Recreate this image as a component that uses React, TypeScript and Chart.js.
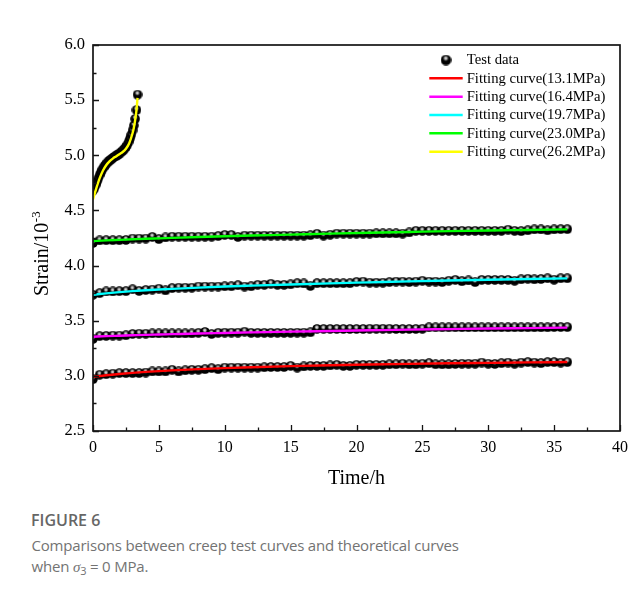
import React, { useEffect, useRef } from "react";
import { Chart, registerables } from "chart.js";

Chart.register(...registerables);

// ---------- data ----------
const timesLong = [
  0, 0.5, 1, 1.5, 2, 2.5, 3, 3.5, 4, 4.5,
  5, 5.5, 6, 6.5, 7, 7.5, 8, 8.5, 9, 9.5,
  10, 10.5, 11, 11.5, 12, 12.5, 13, 13.5, 14, 14.5,
  15, 15.5, 16, 16.5, 17, 17.5, 18, 18.5, 19, 19.5,
  20, 20.5, 21, 21.5, 22, 22.5, 23, 23.5, 24, 24.5,
  25, 25.5, 26, 26.5, 27, 27.5, 28, 28.5, 29, 29.5,
  30, 30.5, 31, 31.5, 32, 32.5, 33, 33.5, 34, 34.5,
  35, 35.5, 36,
];

const test131 = [
  2.97, 3.01, 3.015, 3.02, 3.025, 3.025, 3.025, 3.025, 3.03, 3.04,
  3.04, 3.04, 3.055, 3.04, 3.05, 3.055, 3.055, 3.06, 3.07, 3.06,
  3.075, 3.075, 3.075, 3.075, 3.075, 3.075, 3.078, 3.08, 3.08, 3.08,
  3.09, 3.075, 3.085, 3.09, 3.09, 3.09, 3.095, 3.1, 3.09, 3.09,
  3.1, 3.1, 3.1, 3.1, 3.1, 3.105, 3.105, 3.11, 3.105, 3.105,
  3.11, 3.115, 3.105, 3.105, 3.105, 3.108, 3.11, 3.11, 3.11, 3.12,
  3.11, 3.108, 3.115, 3.12, 3.11, 3.12, 3.125, 3.12, 3.115, 3.125,
  3.125, 3.12, 3.125,
];

const test164 = [
  3.335, 3.36, 3.362, 3.365, 3.365, 3.368, 3.38, 3.382, 3.382, 3.385,
  3.385, 3.385, 3.385, 3.385, 3.385, 3.385, 3.39, 3.398, 3.38, 3.39,
  3.392, 3.392, 3.392, 3.4, 3.39, 3.39, 3.39, 3.39, 3.39, 3.39,
  3.39, 3.392, 3.392, 3.395, 3.425, 3.425, 3.425, 3.425, 3.425, 3.425,
  3.425, 3.425, 3.427, 3.427, 3.427, 3.427, 3.425, 3.425, 3.425, 3.425,
  3.427, 3.44, 3.44, 3.44, 3.44, 3.44, 3.44, 3.44, 3.44, 3.44,
  3.44, 3.44, 3.44, 3.44, 3.44, 3.44, 3.44, 3.44, 3.44, 3.44,
  3.442, 3.442, 3.442,
];

const test197 = [
  3.735, 3.75, 3.765, 3.765, 3.768, 3.768, 3.785, 3.77, 3.778, 3.782,
  3.79, 3.775, 3.795, 3.8, 3.8, 3.8, 3.81, 3.81, 3.81, 3.81,
  3.812, 3.812, 3.822, 3.81, 3.812, 3.825, 3.825, 3.835, 3.825, 3.825,
  3.83, 3.84, 3.838, 3.815, 3.84, 3.84, 3.84, 3.84, 3.84, 3.84,
  3.852, 3.855, 3.845, 3.845, 3.845, 3.85, 3.855, 3.855, 3.85, 3.855,
  3.862, 3.855, 3.855, 3.85, 3.862, 3.87, 3.858, 3.865, 3.85, 3.87,
  3.87, 3.87, 3.87, 3.87, 3.862, 3.875, 3.88, 3.875, 3.878, 3.885,
  3.872, 3.885, 3.885,
];

const test230 = [
  4.205, 4.228, 4.23, 4.23, 4.23, 4.232, 4.245, 4.245, 4.245, 4.26,
  4.24, 4.255, 4.262, 4.262, 4.262, 4.262, 4.262, 4.262, 4.262, 4.268,
  4.278, 4.278, 4.26, 4.272, 4.272, 4.272, 4.272, 4.272, 4.272, 4.272,
  4.272, 4.272, 4.272, 4.275, 4.288, 4.272, 4.28, 4.29, 4.29, 4.29,
  4.29, 4.29, 4.29, 4.292, 4.292, 4.292, 4.292, 4.29, 4.3, 4.315,
  4.315, 4.315, 4.315, 4.315, 4.315, 4.315, 4.315, 4.315, 4.315, 4.315,
  4.315, 4.315, 4.315, 4.325, 4.315, 4.312, 4.32, 4.328, 4.328, 4.32,
  4.328, 4.33, 4.33,
];

const times262 = [
  0, 0.1, 0.2, 0.3, 0.4, 0.5, 0.6, 0.7, 0.8, 0.9,
  1, 1.1, 1.2, 1.3, 1.4, 1.5, 1.6, 1.7, 1.8, 1.9,
  2, 2.1, 2.2, 2.3, 2.4, 2.5, 2.6, 2.7, 2.8, 2.9,
  3, 3.1, 3.2, 3.3, 3.38,
];

const test262 = [
  4.68, 4.7, 4.73, 4.76, 4.79, 4.82, 4.845, 4.87, 4.89, 4.905,
  4.92, 4.935, 4.945, 4.955, 4.965, 4.975, 4.985, 4.99, 5.0, 5.005,
  5.015, 5.025, 5.035, 5.045, 5.06, 5.075, 5.095, 5.12, 5.15, 5.185,
  5.225, 5.27, 5.33, 5.41, 5.55,
];

const fitTimes = [0, 1, 2, 3, 4, 5, 6, 8, 10, 12, 15, 18, 21, 24, 27, 30, 33, 36];
const fit131 = [2.99, 3.005, 3.017, 3.027, 3.036, 3.043, 3.05, 3.061, 3.07, 3.078, 3.088, 3.096, 3.103, 3.109, 3.114, 3.118, 3.122, 3.125];
const fit164 = [3.355, 3.36, 3.364, 3.368, 3.372, 3.375, 3.378, 3.384, 3.389, 3.394, 3.401, 3.407, 3.413, 3.419, 3.424, 3.429, 3.433, 3.437];
const fit197 = [3.735, 3.748, 3.759, 3.768, 3.776, 3.783, 3.789, 3.8, 3.81, 3.818, 3.829, 3.839, 3.848, 3.857, 3.865, 3.872, 3.878, 3.884];
const fit230 = [4.222, 4.228, 4.233, 4.238, 4.243, 4.247, 4.251, 4.259, 4.266, 4.272, 4.281, 4.29, 4.298, 4.305, 4.312, 4.318, 4.323, 4.328];

const fitTimes262 = [0, 0.25, 0.5, 0.75, 1, 1.25, 1.5, 1.75, 2, 2.25, 2.5, 2.75, 3, 3.1, 3.2, 3.3, 3.38];
const fit262 = [4.6, 4.7, 4.79, 4.86, 4.91, 4.945, 4.97, 4.99, 5.01, 5.03, 5.06, 5.11, 5.2, 5.25, 5.32, 5.41, 5.52];

const legendLabels = [
  "Test data",
  "Fitting curve(13.1MPa)",
  "Fitting curve(16.4MPa)",
  "Fitting curve(19.7MPa)",
  "Fitting curve(23.0MPa)",
  "Fitting curve(26.2MPa)",
];
const fitColors = ["#ff0000", "#ff00ff", "#00ffff", "#00ff00", "#ffff00"];

const SERIF = "'Liberation Serif', 'Times New Roman', Times, serif";

function pairs(xs: number[], ys: number[]) {
  return xs.map((x, i) => ({ x, y: ys[i] }));
}

function makeSphere(size: number) {
  const c = document.createElement("canvas");
  c.width = size;
  c.height = size;
  const g = c.getContext("2d")!;
  const r = size / 2;
  g.beginPath();
  g.arc(r, r, r - 0.2, 0, Math.PI * 2);
  g.fillStyle = "#000";
  g.fill();
  const hx = r - 0.2;
  const hy = r - 1.7;
  const grad = g.createRadialGradient(hx, hy, 0, hx, hy, r * 0.62);
  grad.addColorStop(0, "rgba(245,245,245,1)");
  grad.addColorStop(0.45, "rgba(170,170,170,0.9)");
  grad.addColorStop(1, "rgba(0,0,0,0)");
  g.fillStyle = grad;
  g.beginPath();
  g.arc(r, r, r - 0.2, 0, Math.PI * 2);
  g.fill();
  return c;
}

export default function App() {
  const canvasRef = useRef<HTMLCanvasElement | null>(null);

  useEffect(() => {
    const canvas = canvasRef.current;
    if (!canvas) return;
    const sphere = makeSphere(10);
    const legendSphere = makeSphere(11);

    const testSeries = [
      pairs(timesLong, test131),
      pairs(timesLong, test164),
      pairs(timesLong, test197),
      pairs(timesLong, test230),
      pairs(times262, test262),
    ];
    const fitSeries = [
      pairs(fitTimes, fit131),
      pairs(fitTimes, fit164),
      pairs(fitTimes, fit197),
      pairs(fitTimes, fit230),
      pairs(fitTimes262, fit262),
    ];

    const datasets: any[] = [];
    testSeries.forEach((d, i) => {
      datasets.push({
        type: "scatter",
        label: i === 0 ? legendLabels[0] : "Test data " + i,
        data: d,
        showLine: false,
        pointStyle: sphere,
        pointRadius: 5,
        order: 2,
        clip: 0,
      });
    });
    fitSeries.forEach((d, i) => {
      datasets.push({
        type: "line",
        label: legendLabels[i + 1],
        data: d,
        borderColor: fitColors[i],
        backgroundColor: fitColors[i],
        borderWidth: 2.4,
        pointRadius: 0,
        fill: false,
        cubicInterpolationMode: "monotone",
        order: 1,
        clip: 0,
      });
    });

    const decor = {
      id: "decor",
      afterDraw(chart: any) {
        const { ctx, chartArea } = chart;
        const { left, right, top, bottom } = chartArea;
        const xs = chart.scales.x;
        const ys = chart.scales.y;
        ctx.save();
        // frame
        ctx.strokeStyle = "#151515";
        ctx.lineWidth = 1.7;
        ctx.strokeRect(left, top, right - left, bottom - top);
        // ticks (inward)
        ctx.lineWidth = 1.3;
        const xv = xs.ticks.map((t: any) => t.value);
        const yv = ys.ticks.map((t: any) => t.value);
        ctx.beginPath();
        xv.forEach((v: number, i: number) => {
          const p = Math.round(xs.getPixelForValue(v)) + 0.5;
          ctx.moveTo(p, bottom);
          ctx.lineTo(p, bottom - 6);
          if (i < xv.length - 1) {
            const m = Math.round(xs.getPixelForValue((v + xv[i + 1]) / 2)) + 0.5;
            ctx.moveTo(m, bottom);
            ctx.lineTo(m, bottom - 3.5);
          }
        });
        yv.forEach((v: number, i: number) => {
          const p = Math.round(ys.getPixelForValue(v)) + 0.5;
          ctx.moveTo(left, p);
          ctx.lineTo(left + 6, p);
          if (i < yv.length - 1) {
            const m = Math.round(ys.getPixelForValue((v + yv[i + 1]) / 2)) + 0.5;
            ctx.moveTo(left, m);
            ctx.lineTo(left + 3.5, m);
          }
        });
        ctx.stroke();

        // axis titles
        ctx.fillStyle = "#000";
        ctx.font = `20px ${SERIF}`;
        ctx.textAlign = "center";
        ctx.textBaseline = "middle";
        ctx.fillText("Time/h", (left + right) / 2, 471);

        ctx.save();
        ctx.translate(40, 288);
        ctx.rotate(-Math.PI / 2);
        ctx.textAlign = "left";
        ctx.textBaseline = "alphabetic";
        ctx.font = `20px ${SERIF}`;
        const main = "Strain/10";
        ctx.fillText(main, 0, 0);
        const w = ctx.measureText(main).width;
        ctx.font = `13px ${SERIF}`;
        ctx.fillText("-3", w + 0.5, -8);
        ctx.restore();

        // legend
        const rowY = [52, 70.3, 88.7, 107, 125.3, 143.7];
        ctx.font = `14.7px ${SERIF}`;
        ctx.textAlign = "left";
        ctx.textBaseline = "middle";
        legendLabels.forEach((lab, i) => {
          const y = rowY[i];
          if (i === 0) {
            ctx.drawImage(legendSphere, 438 - 5.5, y - 5.5);
          } else {
            ctx.strokeStyle = fitColors[i - 1];
            ctx.lineWidth = 2.4;
            ctx.beginPath();
            ctx.moveTo(421.3, y);
            ctx.lineTo(454.7, y);
            ctx.stroke();
          }
          ctx.fillStyle = "#000";
          ctx.fillText(lab, 458.7, y + 0.5);
        });
        ctx.restore();
      },
    };

    const chart = new Chart(canvas, {
      type: "scatter",
      data: { datasets },
      options: {
        animation: false,
        responsive: false,
        maintainAspectRatio: false,
        devicePixelRatio: 1,
        layout: { padding: { left: 0, right: 22, top: 37, bottom: 0 } },
        plugins: {
          legend: { display: false },
          tooltip: { enabled: false },
        },
        scales: {
          x: {
            type: "linear",
            min: 0,
            max: 40,
            ticks: {
              stepSize: 5,
              padding: 7,
              color: "#000",
              font: { family: SERIF, size: 16 },
            },
            grid: { display: false, drawTicks: false },
            border: { display: false },
            afterFit: (s: any) => {
              s.height = 77;
            },
          },
          y: {
            type: "linear",
            min: 2.5,
            max: 6.0,
            ticks: {
              stepSize: 0.5,
              padding: 8,
              color: "#000",
              font: { family: SERIF, size: 16.5 },
              callback: (v: any) => Number(v).toFixed(1),
            },
            grid: { display: false, drawTicks: false },
            border: { display: false },
            afterFit: (s: any) => {
              s.width = 85;
            },
          },
        },
      },
      plugins: [decor],
    } as any);

    return () => chart.destroy();
  }, []);

  return (
    <div
      style={{
        position: "relative",
        width: 635,
        height: 594,
        marginTop: -1,
        marginLeft: -1,
        borderTop: "1px solid #d9d9d9",
        borderLeft: "1px solid #d9d9d9",
        boxSizing: "border-box",
        overflow: "hidden",
      }}
    >
      <canvas
        ref={canvasRef}
        width={634}
        height={500}
        style={{ position: "absolute", left: 0, top: 0, width: 634, height: 500 }}
      />
      <div
        style={{
          position: "absolute",
          left: 23,
          top: 502,
          fontFamily: "'Open Sans', sans-serif",
          fontWeight: 600,
          fontSize: 16,
          lineHeight: "20px",
          color: "#666",
          whiteSpace: "nowrap",
        }}
      >
        FIGURE 6
      </div>
      <div
        style={{
          position: "absolute",
          left: 23.5,
          top: 527,
          fontFamily: "'Open Sans', sans-serif",
          fontWeight: 400,
          fontSize: 15,
          letterSpacing: "-0.19px",
          lineHeight: "21px",
          color: "#737373",
          whiteSpace: "nowrap",
        }}
      >
        <div>Comparisons between creep test curves and theoretical curves</div>
        <div>
          when{" "}
          <span style={{ fontFamily: "'Liberation Serif', serif", fontStyle: "italic" }}>σ</span>
          <sub style={{ fontSize: 11, verticalAlign: "-3px", lineHeight: 0 }}>3</sub> = 0 MPa.
        </div>
      </div>
    </div>
  );
}
